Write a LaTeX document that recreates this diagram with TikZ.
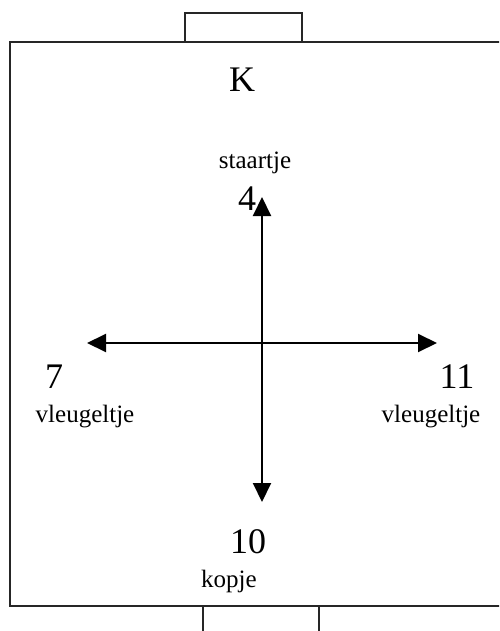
\documentclass[tikz,border=0pt]{standalone}
\usepackage{fontspec}
\setmainfont{Liberation Serif}
\usetikzlibrary{arrows.meta,positioning}

\begin{document}
\begin{tikzpicture}[
  x=1pt, y=-1pt,
  frame/.style={draw, line width=1.5pt, black!85},
  bignum/.style={font=\fontsize{36}{40}\selectfont, anchor=base, inner sep=0pt},
  smalltext/.style={font=\fontsize{25}{28}\selectfont, anchor=base, inner sep=0pt},
  arrow/.style={{Triangle[length=19pt,width=18pt]}-{Triangle[length=19pt,width=18pt]}, line width=2pt}
]
\clip (0,0) rectangle (499,631);

% field and goals
\draw[frame] (10,42) rectangle (520,606);
\draw[frame] (185,42) |- (302,13) -- (302,42);
\draw[frame] (203,640) -- (203,606) (319,606) -- (319,640);

\node[bignum] (k) at (242,92) {K};
\node[smalltext] (tail) at (255,168) {staartje};
\node[bignum] (n4) at (247,210) {4};
\node[bignum] (n7) at (54,388) {7};
\node[smalltext] (wingleft) at (85,422) {vleugeltje};
\node[bignum] (n11) at (457,388) {11};
\node[smalltext] (wingright) at (431,422) {vleugeltje};
\node[bignum] (n10) at (248,553) {10};
\node[smalltext] (head) at (229,587) {kopje};

\coordinate (top) at (262,197);
\coordinate (bottom) at (262,502);
\coordinate (left) at (87,343);
\coordinate (right) at (437,343);

\draw[arrow] (left) -- (right);
\draw[arrow] (top) -- (bottom);

\end{tikzpicture}
\end{document}
